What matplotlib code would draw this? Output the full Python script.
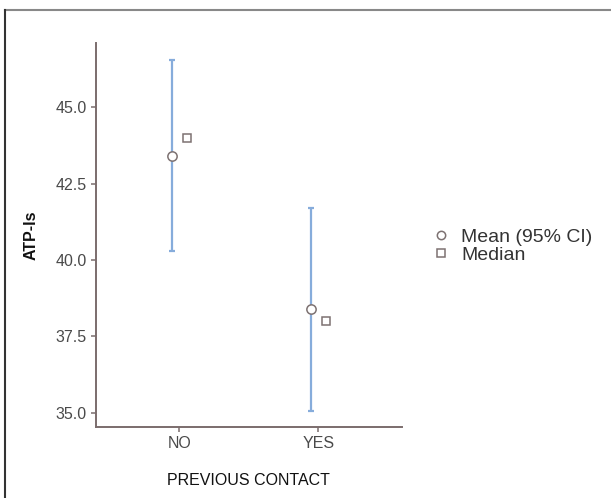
import matplotlib
matplotlib.use("Agg")
import matplotlib.pyplot as plt
from matplotlib.lines import Line2D
import numpy as np

plt.rcParams['font.family'] = ['Liberation Sans', 'DejaVu Sans']

groups = ["NO", "YES"]
mean_vals = [43.41, 38.38]
ci_low = [40.30, 35.07]
ci_high = [46.55, 41.71]
median_vals = [44.0, 38.0]
yticks = [35.0, 37.5, 40.0, 42.5, 45.0]
ytick_labels = ["35.0", "37.5", "40.0", "42.5", "45.0"]

W, H = 611, 498
fig = plt.figure(figsize=(W / 100, H / 100), dpi=100)
fig.patch.set_facecolor("white")

ax_left, ax_right, ax_top, ax_bot = 95.7, 402, 43, 427
ax = fig.add_axes([ax_left / W, 1 - ax_bot / H, (ax_right - ax_left) / W, (ax_bot - ax_top) / H])

x = np.arange(1, len(groups) + 1)
dodge = 0.053
spine_col = "#7b6d6d"
mark_edge = "#7d7272"
bar_col = "#86acdb"

mean_arr = np.array(mean_vals)
yerr = np.vstack([mean_arr - np.array(ci_low), np.array(ci_high) - mean_arr])
ax.errorbar(x - dodge, mean_arr, yerr=yerr, fmt="none", ecolor=bar_col,
            elinewidth=1.6, capsize=2.2, capthick=1.6, zorder=2)
ax.plot(x - dodge, mean_arr, linestyle="none", marker="o", markersize=6.7,
        markerfacecolor="white", markeredgecolor=mark_edge, markeredgewidth=1.1, zorder=3)
ax.plot(x + dodge, median_vals, linestyle="none", marker="s", markersize=6.0,
        markerfacecolor="white", markeredgecolor=mark_edge, markeredgewidth=1.1, zorder=3)

ax.set_xlim(0.4, 2.6)
ax.set_ylim(34.53, 47.1)
ax.set_xticks(x)
ax.set_xticklabels(groups)
ax.set_yticks(yticks)
ax.set_yticklabels(ytick_labels)

for s in ["top", "right"]:
    ax.spines[s].set_visible(False)
for s in ["left", "bottom"]:
    ax.spines[s].set_color(spine_col)
    ax.spines[s].set_linewidth(1.4)
ax.tick_params(axis="both", colors=spine_col, length=3.5, width=1.1,
               labelsize=11.5, labelcolor="#4a4a4a", pad=3)

ax.set_xlabel("PREVIOUS CONTACT", fontsize=11.5, color="#111111", labelpad=16)
ax.set_ylabel("ATP-ls", fontsize=11.5, color="#111111", fontweight="bold", labelpad=12)

handles = [
    Line2D([], [], linestyle="none", marker="o", markersize=6.0, markerfacecolor="white",
           markeredgecolor=mark_edge, markeredgewidth=1.1),
    Line2D([], [], linestyle="none", marker="s", markersize=5.5, markerfacecolor="white",
           markeredgecolor=mark_edge, markeredgewidth=1.1),
]
fig.legend(handles, ["Mean (95% CI)", "Median"], loc="upper left",
           bbox_to_anchor=(431 / W, 1 - 228 / H), frameon=False, fontsize=14,
           handlelength=1.0, handletextpad=0.55, labelspacing=0.05,
           borderpad=0, borderaxespad=0, labelcolor="#333333")

# figure frame (top and left edges)
fig.add_artist(Line2D([5 / W, 1], [1 - 10 / H, 1 - 10 / H], transform=fig.transFigure,
                      color="#888888", linewidth=1.5))
fig.add_artist(Line2D([5 / W, 5 / W], [0, 1 - 10 / H], transform=fig.transFigure,
                      color="#333333", linewidth=1.5))

fig.savefig("out.png", dpi=100, facecolor="white")
